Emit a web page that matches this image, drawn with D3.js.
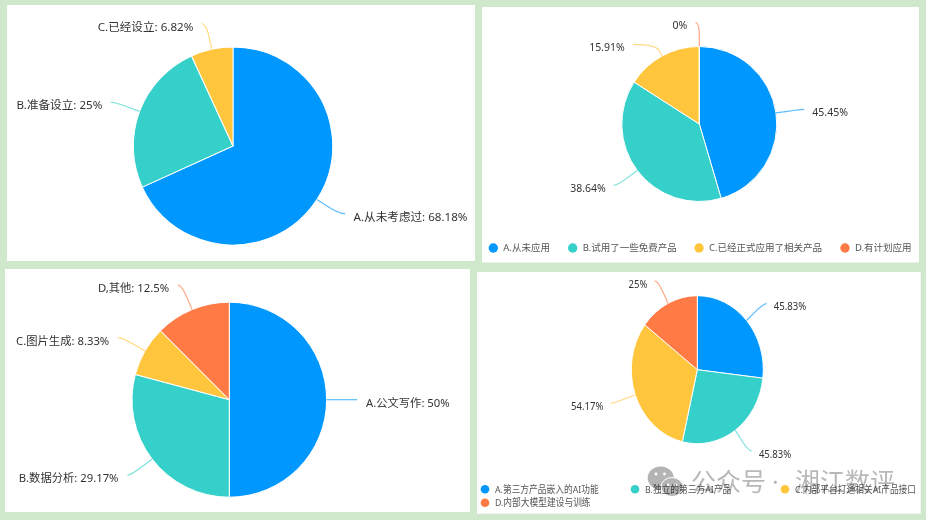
<!DOCTYPE html>
<html><head><meta charset="utf-8">
<script src="https://cdn.jsdelivr.net/npm/d3@7"></script>
<style>html,body{margin:0;padding:0;background:#cfe8cc;overflow:hidden}svg{display:block}</style>
</head><body><svg id="c" width="926" height="520"></svg>
<script>
const colors = ["#0098ff","#36d0ca","#ffc53d","#ff7a45"];

const cats1 = ["A.从未考虑过","B.准备设立","C.已经设立"];
const vals1 = [68.18,25,6.82];
const cats2 = ["A.从未应用","B.试用了一些免费产品","C.已经正式应用了相关产品","D.有计划应用"];
const vals2 = [45.45,38.64,15.91,0];
const cats3 = ["A.公文写作","B.数据分析","C.图片生成","D,其他"];
const vals3 = [50,29.17,8.33,12.5];
const cats4 = ["A.第三方产品嵌入的AI功能","B.独立的第三方AI产品","C.内部平台打通相关AI产品接口","D.内部大模型建设与训练"];
const vals4 = [45.83,45.83,54.17,25];

const panels = [
  {box:[7,5,468,256],c:[233,146],rx:99.7,ry:99,cats:cats1,vals:vals1,named:true,elbow:1.265,hor:[6,4,4.4],gap:8.5,size:11.6},
  {box:[482,7,437,255.5],c:[699.3,124],rx:77.5,ry:77.5,cats:cats2,vals:vals2,named:false,elbow:[1.33,1.32,1.17,1.31],hor:[3,3.7,23,4],gap:8,size:10.5,
    legend:[[493.3,248],[572.7,248],[699,248],[845,248]],dot:4.7,legendSize:9.5},
  {box:[5,269,465,243],c:[229.3,399.7],rx:97.3,ry:97.5,cats:cats3,vals:vals3,named:true,elbow:1.273,hor:[4,3.7,4,4],gap:8.8,size:11.3},
  {box:[477,272,443.7,241.7],c:[697.3,369.7],rx:66,ry:74,cats:cats4,vals:vals4,named:false,elbow:1.34,hor:[3.3,3.5,3.5,3.5],gap:7.2,size:10.7,
    legend:[[485,489.3],[635,489.3],[785,489.3],[485,502.7]],dot:4.3,squeeze:0.892,legendSize:9.8}
];

const svg = d3.select("#c");
const FONT = "'Noto Sans','Noto Sans CJK SC',sans-serif";

function put(sel,x,y,anchor,str,size,fill,sx){
  sel.append("text")
    .attr("transform",`translate(${x},${y}) scale(${sx||1},1)`)
    .attr("text-anchor",anchor).attr("dy","0.35em")
    .attr("font-family",FONT).attr("font-size",size).attr("fill",fill).text(str);
}

panels.forEach(p=>{
  const g = svg.append("g");
  g.append("rect").attr("x",p.box[0]).attr("y",p.box[1]).attr("width",p.box[2]).attr("height",p.box[3]).attr("fill","#fff");
  const arcs = d3.pie().sort(null).value(d=>d)(p.vals);
  const arc = d3.arc().innerRadius(0).outerRadius(p.ry);
  g.append("g").attr("transform",`translate(${p.c[0]},${p.c[1]}) scale(${p.rx/p.ry},1)`)
    .selectAll("path").data(arcs).join("path")
    .attr("d",arc).attr("fill",(d,i)=>colors[i]).attr("stroke","#fff").attr("stroke-width",1);
  const xAt=(a,k)=>p.c[0]+p.rx*k*Math.sin(a), yAt=(a,k)=>p.c[1]-p.ry*k*Math.cos(a);
  arcs.forEach((d,i)=>{
    let a=(d.startAngle+d.endAngle)/2;
    const k=Array.isArray(p.elbow)?p.elbow[i]:p.elbow;
    const side=Math.sin(a)>=1e-6?1:-1;
    const sx0=xAt(a,1),sy0=yAt(a,1),ex=xAt(a,k),ey=yAt(a,k),endX=ex+side*p.hor[i];
    const t=0.55;
    const path=d3.path();
    path.moveTo(sx0,sy0);
    path.lineTo(ex+(sx0-ex)*t,ey+(sy0-ey)*t);
    path.quadraticCurveTo(ex,ey,endX,ey);
    g.append("path").attr("d",path.toString()).attr("fill","none").attr("stroke",colors[i]).attr("stroke-opacity",.65).attr("stroke-width",1.2);
    const str=p.named?`${p.cats[i]}: ${p.vals[i]}%`:`${p.vals[i]}%`;
    put(g,endX+side*p.gap,ey+3,side>0?"start":"end",str,p.size,"#333",p.squeeze);
  });
  if(p.legend){
    p.legend.forEach((pos,i)=>{
      g.append("circle").attr("cx",pos[0]).attr("cy",pos[1]).attr("r",p.dot).attr("fill",colors[i]);
      put(g,pos[0]+10,pos[1],"start",p.cats[i],p.legendSize,"#555",p.squeeze);
    });
  }
});

// watermark, blended over the chart so the legend stays readable through it
const wm = svg.append("g").attr("fill","#b4b4b4").style("mix-blend-mode","multiply");
wm.append("ellipse").attr("cx",660.7).attr("cy",478).attr("rx",13).attr("ry",11.5);
wm.append("ellipse").attr("cx",672).attr("cy",487).attr("rx",11).attr("ry",9.5).attr("stroke","#fff").attr("stroke-width",1);
[[656,474],[664.5,474],[668,485],[676,485]].forEach(e=>wm.append("circle").attr("cx",e[0]).attr("cy",e[1]).attr("r",1.4).attr("fill","#fff"));
const wmt = svg.append("g").attr("font-family",FONT).attr("fill","#b8b8b8").attr("font-size",25).style("mix-blend-mode","multiply");
wmt.append("text").attr("x",691).attr("y",491).text("公众号");
wmt.append("text").attr("x",772).attr("y",491).text("·");
wmt.append("text").attr("x",795).attr("y",491).text("湘江数评");
</script></body></html>
